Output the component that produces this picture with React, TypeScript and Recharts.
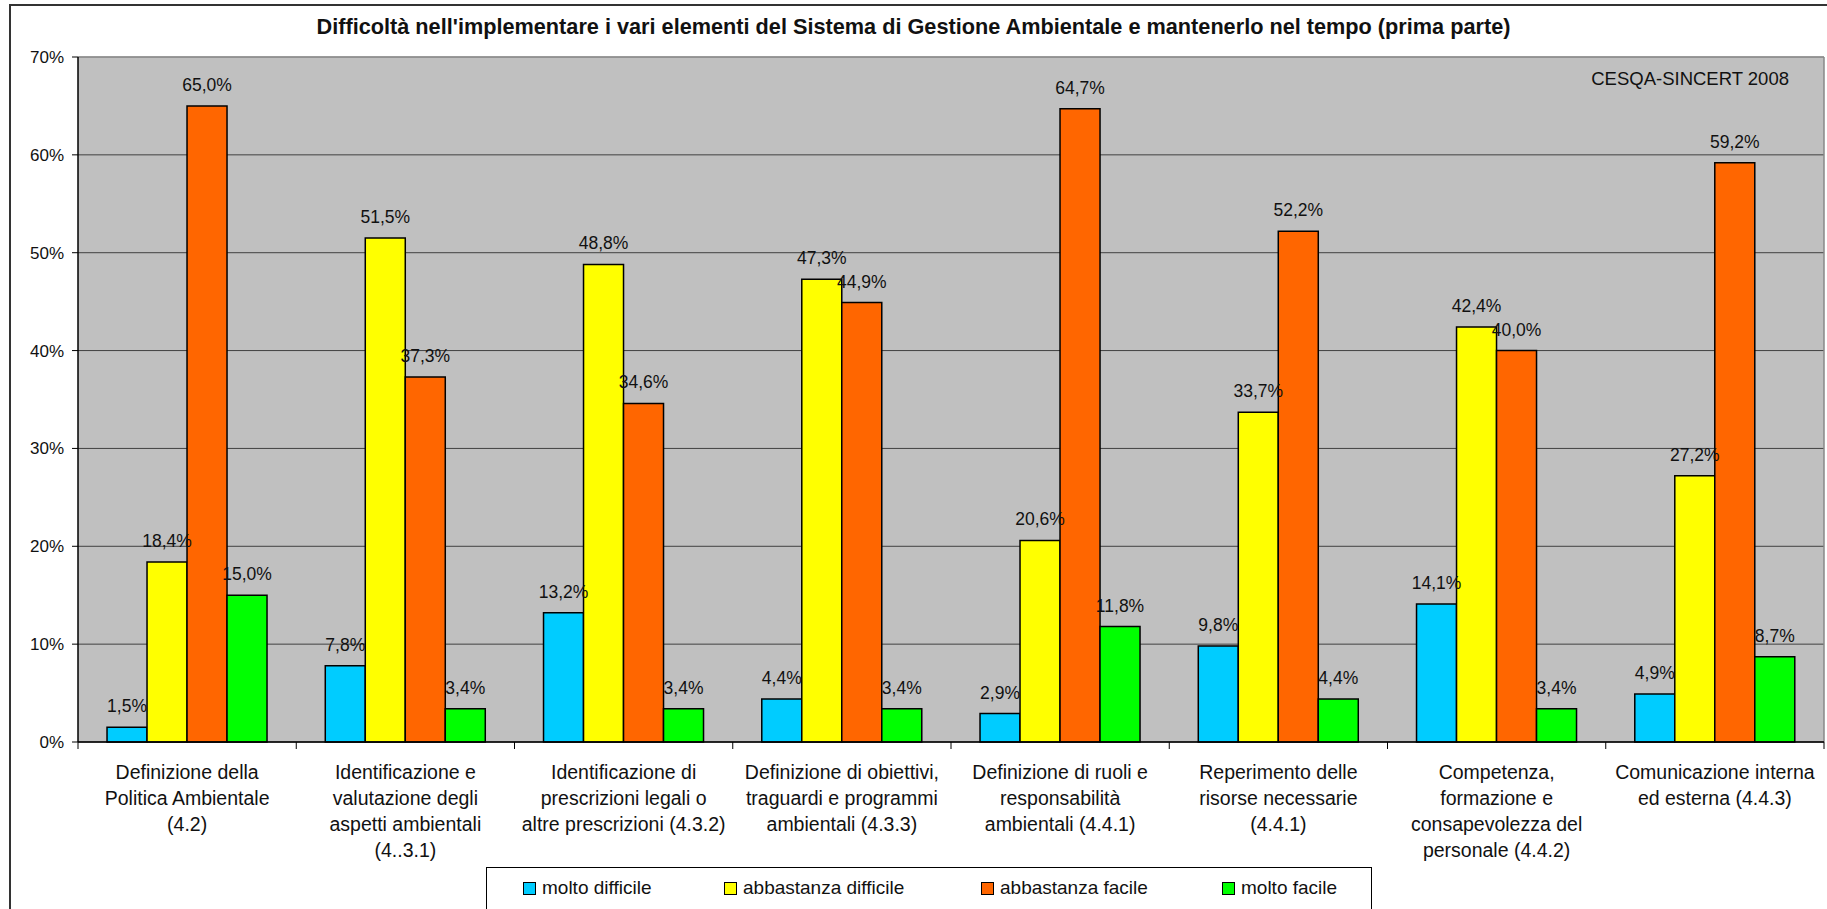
import React from 'react';
import { BarChart, Bar, XAxis, YAxis, CartesianGrid, LabelList, Legend, ReferenceLine } from 'recharts';

const categoryLabels: string[][] = [
  ['Definizione della', 'Politica Ambientale', '(4.2)'],
  ['Identificazione e', 'valutazione degli', 'aspetti ambientali', '(4..3.1)'],
  ['Identificazione di', 'prescrizioni legali o', 'altre prescrizioni (4.3.2)'],
  ['Definizione di obiettivi,', 'traguardi e programmi', 'ambientali (4.3.3)'],
  ['Definizione di ruoli e', 'responsabilità', 'ambientali (4.4.1)'],
  ['Reperimento delle', 'risorse necessarie', '(4.4.1)'],
  ['Competenza,', 'formazione e', 'consapevolezza del', 'personale (4.4.2)'],
  ['Comunicazione interna', 'ed esterna (4.4.3)'],
];
const categories = categoryLabels.map((l) => l.join(' '));

const moltoDifficile = [1.5, 7.8, 13.2, 4.4, 2.9, 9.8, 14.1, 4.9];
const abbastanzaDifficile = [18.4, 51.5, 48.8, 47.3, 20.6, 33.7, 42.4, 27.2];
const abbastanzaFacile = [65.0, 37.3, 34.6, 44.9, 64.7, 52.2, 40.0, 59.2];
const moltoFacile = [15.0, 3.4, 3.4, 3.4, 11.8, 4.4, 3.4, 8.7];

const seriesKeys = ['md', 'ad', 'af', 'mf'];
const seriesNames = ['molto difficile', 'abbastanza difficile', 'abbastanza facile', 'molto facile'];
const seriesColors = ['#00CCFF', '#FFFF00', '#FF6600', '#00FF00'];
const yTicks = [0, 10, 20, 30, 40, 50, 60, 70];

const title = "Difficoltà nell'implementare i vari elementi del Sistema di Gestione Ambientale e mantenerlo nel tempo (prima parte)";
const sourceNote = 'CESQA-SINCERT 2008';

const data = categories.map((c, i) => ({
  name: c,
  md: moltoDifficile[i],
  ad: abbastanzaDifficile[i],
  af: abbastanzaFacile[i],
  mf: moltoFacile[i],
}));

const FONT = '"Liberation Sans", Arial, sans-serif';

const fmt = (v: any) => `${Number(v).toFixed(1).replace('.', ',')}%`;

const CategoryTick = (props: any) => {
  const { x, y, payload } = props;
  const idx = categories.indexOf(payload.value);
  const off = payload.offset ?? 0;
  const lines = categoryLabels[idx] || [];
  return (
    <g>
      <line x1={x - off} x2={x - off} y1={y} y2={y + 7} stroke="#000" strokeWidth={1} />
      {idx === categories.length - 1 && (
        <line x1={x + off} x2={x + off} y1={y} y2={y + 7} stroke="#000" strokeWidth={1} />
      )}
      <text x={x} y={y} textAnchor="middle" fontSize={19.5} fill="#111" fontFamily={FONT}>
        {lines.map((ln, i) => (
          <tspan key={i} x={x} y={y + 37 + i * 26}>
            {ln}
          </tspan>
        ))}
      </text>
    </g>
  );
};

// marker left offsets inside the legend box (layout only)
const legendItemLefts = [36, 237, 494, 735];

const LegendContent = (props: any) => {
  const payload = [...(props.payload || [])].sort(
    (a: any, b: any) => seriesNames.indexOf(a.value) - seriesNames.indexOf(b.value)
  );
  return (
    <div style={{ position: 'relative', width: '100%', height: '100%', fontFamily: FONT, fontSize: 19, color: '#111' }}>
      {payload.map((p: any, i: number) => (
        <div key={i} style={{ position: 'absolute', left: legendItemLefts[i], top: 8, display: 'flex', alignItems: 'center', height: 24, whiteSpace: 'nowrap' }}>
          <span style={{ display: 'inline-block', width: 11, height: 11, border: '1px solid #000', background: p.color, marginRight: 6 }} />
          <span>{p.value}</span>
        </div>
      ))}
    </div>
  );
};

export default function App() {
  return (
    <div style={{ position: 'fixed', left: 0, top: 0, width: 1827, height: 909, overflow: 'hidden', background: '#fff', fontFamily: FONT }}>
      <div style={{ position: 'absolute', left: 9, top: 4, width: 1840, height: 930, border: '2px solid #333', boxSizing: 'border-box' }} />
      <div style={{ position: 'absolute', left: 0, top: 15, width: 1827, textAlign: 'center', fontWeight: 'bold', fontSize: 21.7, lineHeight: '24px', color: '#111' }}>
        {title}
      </div>
      <div style={{ position: 'absolute', left: 0, top: 0 }}>
        <BarChart
          width={1827}
          height={909}
          data={data}
          margin={{ top: 57, right: 3, bottom: 47, left: 8 }}
          barCategoryGap="13.3%"
          barGap={0}
        >
          <CartesianGrid vertical={false} stroke="#404040" fill="#C0C0C0" fillOpacity={1} />
          <ReferenceLine y={70} stroke="#999" strokeWidth={1.5} />
          <ReferenceLine x={categories[categories.length - 1]} position="end" stroke="#888" strokeWidth={1.5} />
          <XAxis
            dataKey="name"
            height={120}
            interval={0}
            tickLine={false}
            tickSize={0}
            tickMargin={0}
            axisLine={{ stroke: '#000', strokeWidth: 1.5 }}
            tick={<CategoryTick />}
          />
          <YAxis
            width={70}
            domain={[0, 70]}
            ticks={yTicks}
            interval={0}
            tickFormatter={(v: any) => `${v}%`}
            tickSize={6}
            tickMargin={8}
            axisLine={{ stroke: '#000', strokeWidth: 1.5 }}
            tickLine={{ stroke: '#000' }}
            tick={{ fontSize: 17, fill: '#111', fontFamily: FONT }}
          />
          <Legend
            layout="horizontal"
            verticalAlign="middle"
            align="center"
            content={<LegendContent />}
            wrapperStyle={{ position: 'absolute', left: 486, top: 867, width: 886, height: 60, border: '1px solid #000', background: '#fff', boxSizing: 'border-box' }}
          />
          {seriesKeys.map((k, i) => (
            <Bar key={k} dataKey={k} name={seriesNames[i]} fill={seriesColors[i]} stroke="#000" strokeWidth={1.5} isAnimationActive={false}>
              <LabelList dataKey={k} position="top" offset={15} formatter={fmt} fontSize={17.5} fill="#111" fontFamily={FONT} />
            </Bar>
          ))}
        </BarChart>
      </div>
      <div style={{ position: 'absolute', right: 38, top: 68, fontSize: 18.5, lineHeight: '22px', color: '#111', zIndex: 2 }}>{sourceNote}</div>
    </div>
  );
}
